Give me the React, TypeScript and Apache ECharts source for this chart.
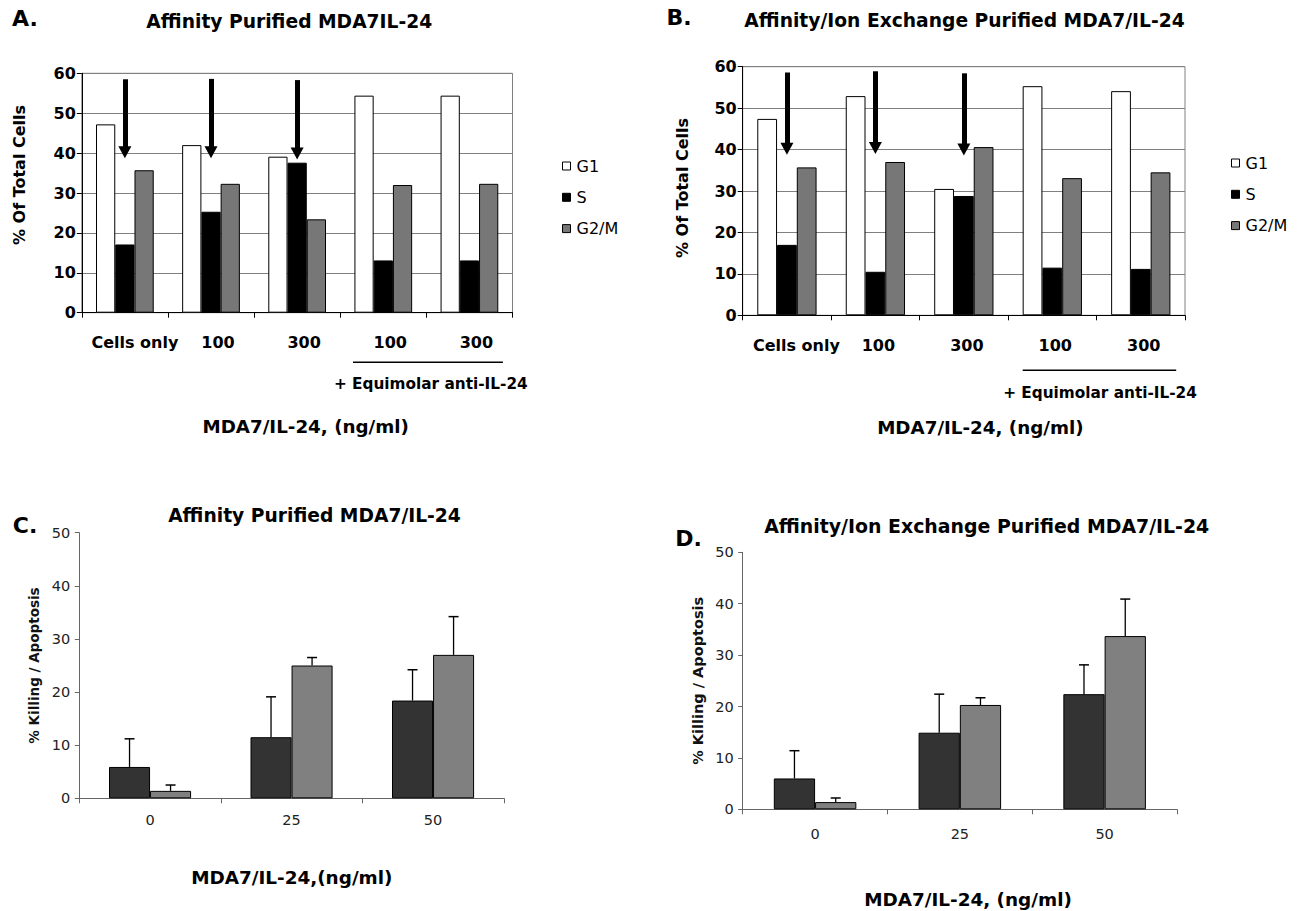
import React, { useEffect, useRef } from 'react';
import * as echarts from 'echarts';

const FONT = '"DejaVu Sans", sans-serif';

// ---- Panels A & B: cell cycle distribution ----
const cycleCategories = ['Cells only', '100', '300', '100', '300'];
const phaseNames = ['G1', 'S', 'G2/M'];
const yTicksCycle = { min: 0, max: 60, interval: 10 };

const affinityG1 = [47.2, 42.0, 39.1, 54.4, 54.4];
const affinityS = [17.1, 25.3, 37.6, 13.1, 13.1];
const affinityG2M = [35.7, 32.3, 23.4, 32.0, 32.3];

const ionG1 = [47.4, 52.9, 30.5, 55.3, 54.1];
const ionS = [17.0, 10.5, 28.8, 11.5, 11.2];
const ionG2M = [35.7, 37.0, 40.6, 33.1, 34.5];

const arrowCategories = [0, 1, 2];
const arrowStartA = [58.5, 58.6, 58.3];
const arrowTipA = [38.7, 38.7, 38.4];
const arrowStartB = [58.6, 58.9, 58.4];
const arrowTipB = [38.7, 38.9, 38.5];

// ---- Panels C & D: killing / apoptosis ----
const killCategories = ['0', '25', '50'];
const yTicksKill = { min: 0, max: 50, interval: 10 };

const affinityDark = [5.9, 11.5, 18.4];
const affinityDarkErr = [5.3, 7.6, 5.8];
const affinityGray = [1.4, 25.0, 27.0];
const affinityGrayErr = [1.1, 1.5, 7.2];

const ionDark = [6.0, 14.9, 22.4];
const ionDarkErr = [5.4, 7.5, 5.7];
const ionGray = [1.4, 20.3, 33.7];
const ionGrayErr = [0.8, 1.4, 7.2];

const phaseColors = ['#ffffff', '#000000', '#777777'];
const killColors = ['#333333', '#808080'];

function cycleBars(xi: number, values: number[][], gap: string, arrowsStart: number[], arrowsTip: number[]) {
  return phaseNames.map((name, k) => {
    const s: any = {
      type: 'bar',
      name,
      xAxisIndex: xi,
      yAxisIndex: xi,
      data: values[k],
      barGap: '0%',
      barCategoryGap: gap,
      itemStyle: { color: phaseColors[k], borderColor: '#000', borderWidth: 1 },
      z: 2,
    };
    if (k === 1) {
      s.markLine = {
        silent: true,
        symbol: ['none', 'triangle'],
        symbolSize: [13, 12],
        label: { show: false },
        lineStyle: { color: '#000', width: 5, type: 'solid' },
        emphasis: { disabled: true },
        data: arrowCategories.map((ci, j) => [
          { coord: [ci, arrowsStart[j]] },
          { coord: [ci, arrowsTip[j] + 1.5] },
        ]),
      };
    }
    return s;
  });
}

function killBars(xi: number, dark: number[], gray: number[], gap: string, names: string[]) {
  return [dark, gray].map((d, k) => ({
    type: 'bar',
    name: names[k],
    xAxisIndex: xi,
    yAxisIndex: xi,
    data: d,
    barGap: '0%',
    barCategoryGap: gap,
    itemStyle: { color: killColors[k], borderColor: '#000', borderWidth: 1 },
    z: 2,
  }));
}

function errorBars(xi: number, means: number[], errs: number[], side: number, gapFrac: number) {
  return {
    type: 'custom',
    xAxisIndex: xi,
    yAxisIndex: xi,
    silent: true,
    z: 3,
    data: means.map((m, i) => [i, m, m + errs[i]]),
    encode: { x: 0, y: 2 },
    renderItem: (params: any, api: any) => {
      const ci = api.value(0);
      const p0 = api.coord([ci, api.value(1)]);
      const p1 = api.coord([ci, api.value(2)]);
      const catW = api.size([1, 0])[0];
      const bw = (catW * (1 - gapFrac)) / 2;
      const x = p0[0] + (side === 0 ? -bw / 2 : bw / 2);
      return {
        type: 'group',
        children: [
          { type: 'line', shape: { x1: x, y1: p0[1], x2: x, y2: p1[1] }, style: { stroke: '#000', lineWidth: 1.3 } },
          { type: 'line', shape: { x1: x - 5, y1: p1[1], x2: x + 5, y2: p1[1] }, style: { stroke: '#000', lineWidth: 1.5 } },
        ],
      };
    },
  };
}

function cycleXAxis(gi: number, offCells: number, offOther: number) {
  const base = { fontSize: 16, fontWeight: 'bold', fontFamily: FONT, color: '#000' };
  return {
    type: 'category',
    gridIndex: gi,
    data: cycleCategories,
    axisLine: { show: true, lineStyle: { color: '#000', width: 1 } },
    axisTick: { show: true, length: 5, lineStyle: { color: '#000' } },
    axisLabel: {
      margin: 22,
      interval: 0,
      ...base,
      formatter: (v: string) => (v === 'Cells only' ? `{w|${v}}` : `{n|${v}}`),
      rich: {
        w: { ...base, padding: [0, 0, 0, offCells * 2] },
        n: { ...base, padding: [0, 0, 0, offOther * 2] },
      },
    },
  };
}

function cycleYAxis(gi: number, nameGap: number, pad: number) {
  return {
    type: 'value',
    gridIndex: gi,
    ...yTicksCycle,
    name: '% Of Total Cells',
    nameLocation: 'middle',
    nameGap,
    nameRotate: 90,
    nameTextStyle: { fontSize: 16, fontWeight: 'bold', fontFamily: FONT, color: '#000', padding: [0, 0, 0, pad] },
    axisLine: { show: true, lineStyle: { color: '#000', width: 1 } },
    axisTick: { show: true, length: 5, lineStyle: { color: '#000' } },
    axisLabel: { fontSize: 16, fontWeight: 'bold', fontFamily: FONT, color: '#000', margin: 6 },
    splitLine: { show: true, lineStyle: { color: '#808080', width: 1 } },
  };
}

function killXAxis(gi: number, margin: number) {
  return {
    type: 'category',
    gridIndex: gi,
    data: killCategories,
    axisLine: { show: true, lineStyle: { color: '#666', width: 1 } },
    axisTick: { show: true, length: 5, lineStyle: { color: '#666' } },
    axisLabel: { fontSize: 14.5, fontFamily: FONT, color: '#222', margin },
  };
}

function killYAxis(gi: number, nameGap: number, nameSize: number) {
  return {
    type: 'value',
    gridIndex: gi,
    ...yTicksKill,
    name: '% Killing / Apoptosis',
    nameLocation: 'middle',
    nameGap,
    nameRotate: 90,
    nameTextStyle: { fontSize: nameSize, fontWeight: 'bold', fontFamily: FONT, color: '#111' },
    axisLine: { show: true, lineStyle: { color: '#666', width: 1 } },
    axisTick: { show: true, length: 4.5, lineStyle: { color: '#666' } },
    axisLabel: { fontSize: 14.5, fontFamily: FONT, color: '#222', margin: 9 },
    splitLine: { show: false },
  };
}

function txt(text: string, x: number, y: number, size: number, bold = true, extra: any = {}) {
  return {
    type: 'text',
    x,
    y,
    silent: true,
    ...extra,
    style: {
      text,
      fontSize: size,
      fontWeight: bold ? 'bold' : 'normal',
      fontFamily: FONT,
      fill: '#000',
      align: 'center',
      verticalAlign: 'middle',
    },
  };
}

function hline(x1: number, x2: number, y: number) {
  return { type: 'line', silent: true, shape: { x1, y1: y, x2, y2: y }, style: { stroke: '#000', lineWidth: 1.6 } };
}

function legendFor(left: number, top: number) {
  return {
    data: phaseNames,
    orient: 'vertical',
    left,
    top,
    icon: 'rect',
    itemWidth: 8,
    itemHeight: 8,
    itemGap: 15.3,
    selectedMode: false,
    itemStyle: { borderColor: '#000', borderWidth: 1 },
    textStyle: { fontSize: 16, fontFamily: FONT, color: '#000', padding: [0, 0, 0, 1] },
  };
}

export default function App() {
  const ref = useRef<HTMLDivElement>(null);

  useEffect(() => {
    if (!ref.current) return;
    const chart = echarts.init(ref.current, undefined, { renderer: 'svg' });
    const option: any = {
      animation: false,
      backgroundColor: '#ffffff',
      grid: [
        { left: 81.8, top: 73.3, width: 430.7, height: 239.4, show: true, borderColor: '#808080', borderWidth: 1, backgroundColor: 'transparent', outerBoundsMode: 'none' },
        { left: 742.7, top: 66.7, width: 442.3, height: 248.6, show: true, borderColor: '#808080', borderWidth: 1, backgroundColor: 'transparent', outerBoundsMode: 'none' },
        { left: 79.3, top: 532.7, width: 424.5, height: 265.6, outerBoundsMode: 'none' },
        { left: 742.7, top: 552.3, width: 434.3, height: 257, outerBoundsMode: 'none' },
      ],
      xAxis: [cycleXAxis(0, 10, 7), cycleXAxis(1, 9.5, 3), killXAxis(2, 14), killXAxis(3, 17)],
      yAxis: [cycleYAxis(0, 54, 36), cycleYAxis(1, 52, 6), killYAxis(2, 38, 13.5), killYAxis(3, 37, 14.5)],
      legend: [legendFor(557, 153), legendFor(1226, 150)],
      series: [
        ...cycleBars(0, [affinityG1, affinityS, affinityG2M], '33%', arrowStartA, arrowTipA),
        ...cycleBars(1, [ionG1, ionS, ionG2M], '33%', arrowStartB, arrowTipB),
        ...killBars(2, affinityDark, affinityGray, '42%', ['Affinity A', 'Affinity B']),
        errorBars(2, affinityDark, affinityDarkErr, 0, 0.42),
        errorBars(2, affinityGray, affinityGrayErr, 1, 0.42),
        ...killBars(3, ionDark, ionGray, '43%', ['Ion exchange A', 'Ion exchange B']),
        errorBars(3, ionDark, ionDarkErr, 0, 0.43),
        errorBars(3, ionGray, ionGrayErr, 1, 0.43),
      ],
      graphic: [
        txt('A.', 25, 18.5, 22),
        txt('Affinity Purified MDA7IL-24', 289.3, 21.5, 18.7),
        txt('B.', 679, 17.5, 22),
        txt('Affinity/Ion Exchange Purified MDA7/IL-24', 964.5, 20.5, 18.7),
        hline(353, 502.9, 362.3),
        txt('+ Equimolar anti-IL-24', 430.8, 384.3, 15.3),
        txt('MDA7/IL-24, (ng/ml)', 305.7, 426.7, 18.3),
        hline(1022.7, 1176.2, 370.3),
        txt('+ Equimolar anti-IL-24', 1100, 392.5, 15.3),
        txt('MDA7/IL-24, (ng/ml)', 980.4, 427.5, 18.3),
        txt('C.', 25, 525.8, 22),
        txt('Affinity Purified MDA7/IL-24', 314.5, 515, 18.7),
        txt('MDA7/IL-24,(ng/ml)', 291.8, 877.5, 18.4),
        txt('D.', 688.5, 538.3, 22),
        txt('Affinity/Ion Exchange Purified MDA7/IL-24', 986.7, 526, 18.9),
        txt('MDA7/IL-24, (ng/ml)', 968, 899, 18.4),
      ],
    };
    chart.setOption(option);
    return () => chart.dispose();
  }, []);

  return <div ref={ref} style={{ position: 'absolute', left: 0, top: 0, width: 1303, height: 911 }} />;
}
